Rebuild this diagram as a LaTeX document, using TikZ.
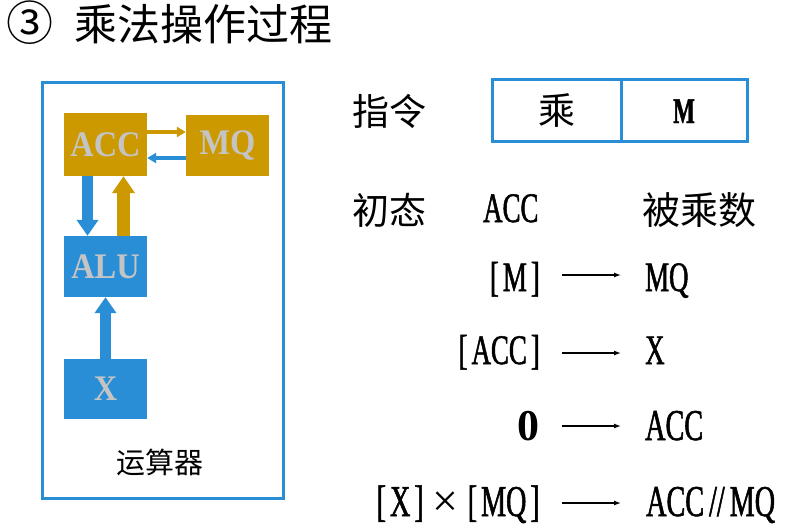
\documentclass[tikz,border=0pt]{standalone}
\usepackage{fontspec}
\setmainfont{Liberation Serif}
\newfontfamily\cjk{Noto Sans CJK SC}
\newfontfamily\narrow[FakeStretch=0.64,FakeBold=1.2]{Liberation Serif}
\newfontfamily\lblfont[FakeStretch=0.9]{Liberation Serif}
\usetikzlibrary{arrows.meta}
\definecolor{myblue}{HTML}{2A8ED6}
\definecolor{mygold}{HTML}{CC9900}
\definecolor{lbl}{HTML}{C4C4C4}
\newcommand{\bk}[1]{[\hspace{4pt}#1\hspace{4pt}]}
\begin{document}
\begin{tikzpicture}[x=1pt,y=-1pt,
  reg/.style={minimum width=83pt,inner sep=0pt,font=\lblfont\fontsize{36}{36}\selectfont\bfseries,text=lbl},
  txt/.style={inner sep=0pt},
  fatblue/.style={draw=myblue,line width=11pt,-{Triangle[width=21pt,length=16pt]}},
  fatgold/.style={draw=mygold,line width=13pt,-{Triangle[width=22pt,length=17pt]}},
  thinblue/.style={draw=myblue,line width=3.5pt,-{Triangle[width=10pt,length=9pt]}},
  thingold/.style={draw=mygold,line width=3.5pt,-{Triangle[width=10pt,length=9pt]}},
  frame/.style={draw=myblue,line width=3pt,inner sep=0pt},
  arr/.style={line width=1.3pt,-{Latex[length=7pt,width=5pt]}},
  small/.style={txt,font=\narrow\fontsize{42}{42}\selectfont},
  big/.style={txt,font=\narrow\fontsize{44}{44}\selectfont}
]
\useasboundingbox (0,0) rectangle (790,525);

% title
\node[txt,anchor=base west,font=\cjk\fontsize{43}{43}\selectfont] (title) at (6,40) {{\fontsize{47}{47}\selectfont ③}\hspace{21pt}乘法操作过程};

% arithmetic unit
\node[frame,minimum width=241pt,minimum height=416pt] (unit) at (162.5,290) {};
\node[reg,fill=mygold,minimum height=63pt] (acc) at (105.5,144.5) {ACC};
\node[reg,fill=mygold,minimum height=61pt] (mq) at (227.5,145.5) {MQ};
\node[reg,fill=myblue,minimum height=61pt] (alu) at (105.5,266.5) {ALU};
\node[reg,fill=myblue,minimum height=60pt] (xr) at (105.5,389) {X};
\node[txt,font=\cjk\fontsize{29}{29}\selectfont] (ysq) at (160,462) {运算器};

\draw[fatblue] ([xshift=-18pt]acc.south) -- ([xshift=-18pt]alu.north);
\draw[fatgold] ([xshift=18pt]alu.north) -- ([xshift=18pt]acc.south);
\draw[fatblue] (xr.north) -- (alu.south);
\draw[thingold] ([yshift=12.5pt]acc.east) -- ([yshift=12.5pt]acc.east -| mq.west);
\draw[thinblue] ([yshift=-13.5pt]acc.east -| mq.west) -- ([yshift=-13.5pt]acc.east);

% instruction
\node[txt,anchor=base west,font=\cjk\fontsize{37}{37}\selectfont] (zl) at (352,125) {指令};
\node[frame,minimum width=129pt,minimum height=62pt,font=\cjk\fontsize{37}{37}\selectfont] (op) at (556.5,110.5) {乘};
\node[frame,minimum width=126pt,minimum height=62pt] (addr) at (684,110.5) {};
\node[txt,anchor=base,font=\narrow\fontsize{36}{36}\selectfont\bfseries] (addrm) at (684,123) {M};

% initial state
\node[txt,anchor=base west,font=\cjk\fontsize{37}{37}\selectfont] (ct) at (352,224) {初态};
\node[small,anchor=base west] (ct2) at (483,222) {ACC};
\node[txt,anchor=base west,font=\cjk\fontsize{38}{38}\selectfont] (ct3) at (642,224) {被乘数};

% steps
\node[small,anchor=base east] (l1) at (540,291) {\bk{M}};
\node[small,anchor=base west] (r1) at (645,291) {MQ};
\coordinate (a1s) at (562,275); \coordinate (a1e) at (621,275);
\draw[arr] (a1s) -- (a1e);

\node[small,anchor=base east] (l2) at (540,364) {\bk{ACC}};
\node[small,anchor=base west] (r2) at (645,364) {X};
\coordinate (a2s) at (562,353); \coordinate (a2e) at (621,353);
\draw[arr] (a2s) -- (a2e);

\node[txt,anchor=base east,font=\fontsize{44}{44}\selectfont\bfseries] (l3) at (540,440) {0};
\node[big,anchor=base west] (r3) at (645,440) {ACC};
\coordinate (a3s) at (562,426); \coordinate (a3e) at (621,426);
\draw[arr] (a3s) -- (a3e);

\node[big,anchor=base east] (l4) at (540,516) {\bk{X}\hspace{9pt}{\rmfamily\fontsize{46}{46}\selectfont×}\hspace{9pt}\bk{MQ}};
\node[big,anchor=base west] (r4) at (646,516) {ACC\hspace{5pt}//\hspace{5pt}MQ};
\coordinate (a4s) at (562,503); \coordinate (a4e) at (621,503);
\draw[arr] (a4s) -- (a4e);
\end{tikzpicture}
\end{document}
